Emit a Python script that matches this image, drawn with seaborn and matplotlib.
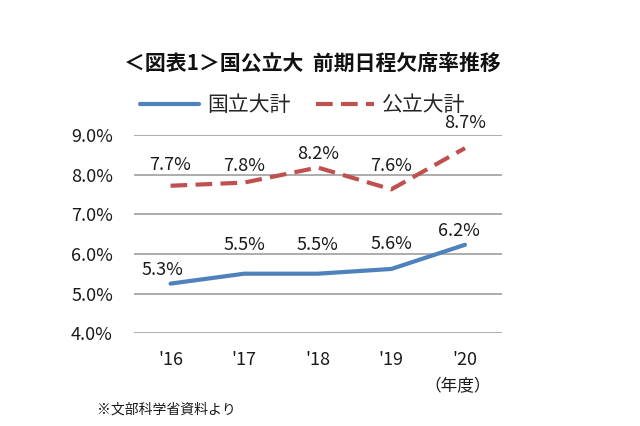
import matplotlib
matplotlib.use("Agg")
import matplotlib.pyplot as plt
import seaborn as sns
import pandas as pd

years = ["'16", "'17", "'18", "'19", "'20"]
national = [5.25, 5.5, 5.5, 5.62, 6.23]
public = [7.72, 7.8, 8.18, 7.63, 8.67]
national_labels = ["5.3%", "5.5%", "5.5%", "5.6%", "6.2%"]
public_labels = ["7.7%", "7.8%", "8.2%", "7.6%", "8.7%"]
series_names = ["国立大計", "公立大計"]
yticks = [4.0, 5.0, 6.0, 7.0, 8.0, 9.0]

sns.set_theme(style="white")
plt.rcParams['font.family'] = ['Noto Sans CJK JP', 'DejaVu Sans']

df = pd.DataFrame({
    "year": years * 2,
    "value": national + public,
    "series": [series_names[0]] * len(years) + [series_names[1]] * len(years),
})

fig = plt.figure(figsize=(6.4, 4.26), dpi=100)
ax = fig.add_axes([0.209, 0.218, 0.575, 0.465])

blue = "#4F81BD"
red = "#C0504D"
sns.lineplot(data=df, x="year", y="value", hue="series", style="series",
             palette={series_names[0]: blue, series_names[1]: red},
             dashes={series_names[0]: "", series_names[1]: (4, 2)},
             linewidth=3, sort=False, ax=ax, legend=False)

ax.set_xlim(-0.5, len(years) - 0.5)
ax.set_ylim(4.0, 9.0)
ax.set_yticks(yticks)
ax.set_yticklabels([f"{v:.1f}%" for v in yticks])
ax.set_xlabel("")
ax.set_ylabel("")
for s in ax.spines.values():
    s.set_visible(False)
ax.yaxis.grid(True, color="#A6A6A6", linewidth=1.3)
ax.xaxis.grid(False)
ax.tick_params(axis="y", length=0, pad=15, labelsize=13, labelcolor="#1a1a1a")
ax.tick_params(axis="x", length=0, pad=13, labelsize=13, labelcolor="#1a1a1a")
ax.set_axisbelow(True)

# data labels (offsets in points)
pub_off = [(0, 15), (0, 12), (0, 10), (0, 17), (0, 18)]
nat_off = [(-6, 10), (0, 21), (0, 21), (0, 18), (-4, 10)]
for i, (v, lab) in enumerate(zip(public, public_labels)):
    ax.annotate(lab, (i, v), xytext=pub_off[i], textcoords="offset points",
                ha="center", va="center", fontsize=13, color="#1a1a1a")
for i, (v, lab) in enumerate(zip(national, national_labels)):
    ax.annotate(lab, (i, v), xytext=nat_off[i], textcoords="offset points",
                ha="center", va="center", fontsize=13, color="#1a1a1a")

# legend
from matplotlib.lines import Line2D
handles = [Line2D([0], [0], color=blue, lw=3),
           Line2D([0], [0], color=red, lw=3, dashes=(4, 2))]
fig.legend(handles, series_names, loc="center", bbox_to_anchor=(303 / 640, 1 - 105 / 426),
           ncol=2, frameon=False, fontsize=15, handlelength=2.8, columnspacing=1.2,
           handletextpad=0.4)

fig.text(312 / 640, 1 - 63 / 426, "＜図表1＞国公立大  前期日程欠席率推移",
         ha="center", va="center", fontsize=15, fontweight="bold", color="#111111")
fig.text(458 / 640, 1 - 387 / 426, "（年度）", ha="center", va="center",
         fontsize=12, color="#1a1a1a")
fig.text(97 / 640, 1 - 410 / 426, "※文部科学省資料より", ha="left", va="center",
         fontsize=10, color="#1a1a1a")

fig.savefig("out.png", dpi=100, facecolor="white")
